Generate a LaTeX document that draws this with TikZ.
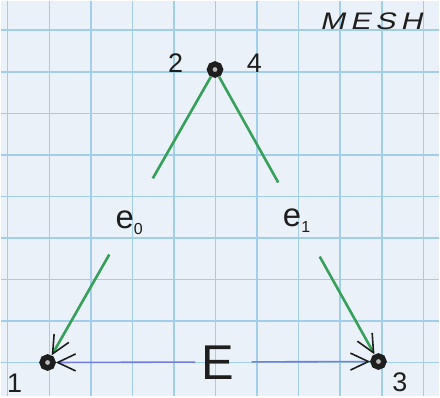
\documentclass[tikz,border=0pt]{standalone}
\usepackage{fontspec}
\setmainfont{Liberation Sans}
\newfontfamily\meshfont[FakeSlant=0.25,FakeStretch=1.25,LetterSpace=22]{Liberation Sans}
\usetikzlibrary{arrows.meta}
\definecolor{paper}{RGB}{234, 241, 248}
\definecolor{gridblue}{RGB}{160, 206, 235}
\definecolor{edgegreen}{RGB}{55, 160, 90}
\definecolor{edgeblue}{RGB}{115, 125, 225}
\definecolor{ink}{RGB}{30, 30, 30}

\begin{document}
\begin{tikzpicture}[
    x=1pt,y=-1pt,
    vtx/.style={circle,draw=ink,fill=gray!55,line width=5.5pt,minimum size=11pt,inner sep=0pt},
    num/.style={font=\fontsize{27}{27}\selectfont,text=ink,inner sep=0pt,anchor=base},
    lbl/.style={font=\fontsize{33}{33}\selectfont,text=ink,inner sep=0pt,anchor=base west},
    barb/.style={-{Straight Barb[length=18pt,width=17pt,color=ink,line width=1.6pt]}},
    greenline/.style={draw=edgegreen,line width=2.6pt},
    blueline/.style={draw=edgeblue,line width=1.6pt}
]
% graph paper
\fill[paper] (0,0) rectangle (440,397);
\foreach \i in {0,...,10} \draw[gridblue,line width=1.5pt] (7+41.7*\i,0) -- (7+41.7*\i,397);
\foreach \j in {0,...,8} \draw[gridblue,line width=1.5pt] (0,29.6+41.7*\j) -- (440,29.6+41.7*\j);
\useasboundingbox (0,0) rectangle (440,397);

% vertices
\node[vtx] (top) at (215,69) {};
\node[vtx] (n1)  at (47,363) {};
\node[vtx] (n3)  at (379,362) {};
\node[num] (l2) at (175.5,72) {2};
\node[num] (l4) at (254.5,72) {4};
\node[num] (l1) at (14,393) {1};
\node[num] (l3) at (400.5,392) {3};
\node[anchor=base west,inner sep=0pt,text=ink,font={\meshfont\fontsize{24}{24}\selectfont}] (mesh) at (320,29) {MESH};

% edge labels
\node[lbl] (e0) at (115,228.5) {e\raisebox{-6pt}{\fontsize{16}{16}\selectfont 0}};
\node[lbl] (e1) at (283,227) {e\raisebox{-6pt}{\fontsize{16}{16}\selectfont 1}};
\node[lbl,font=\fontsize{49}{49}\selectfont] (E) at (201,380) {E};

% edges
\path (top) -- (n1) coordinate[pos=0.365] (e0a) coordinate[pos=0.638] (e0b);
\path (top) -- (n3) coordinate[pos=0.381] (e1a) coordinate[pos=0.648] (e1b);
\path (n1) -- (n3) coordinate[pos=0.443] (Ea) coordinate[pos=0.623] (Eb);
\draw[greenline] (top) -- (e0a);
\draw[greenline,barb] (e0b) -- (n1);
\draw[greenline] (top) -- (e1a);
\draw[greenline,barb] (e1b) -- (n3);
\draw[blueline,barb] (Ea) -- (n1);
\draw[blueline,barb] (Eb) -- (n3);
\end{tikzpicture}
\end{document}
